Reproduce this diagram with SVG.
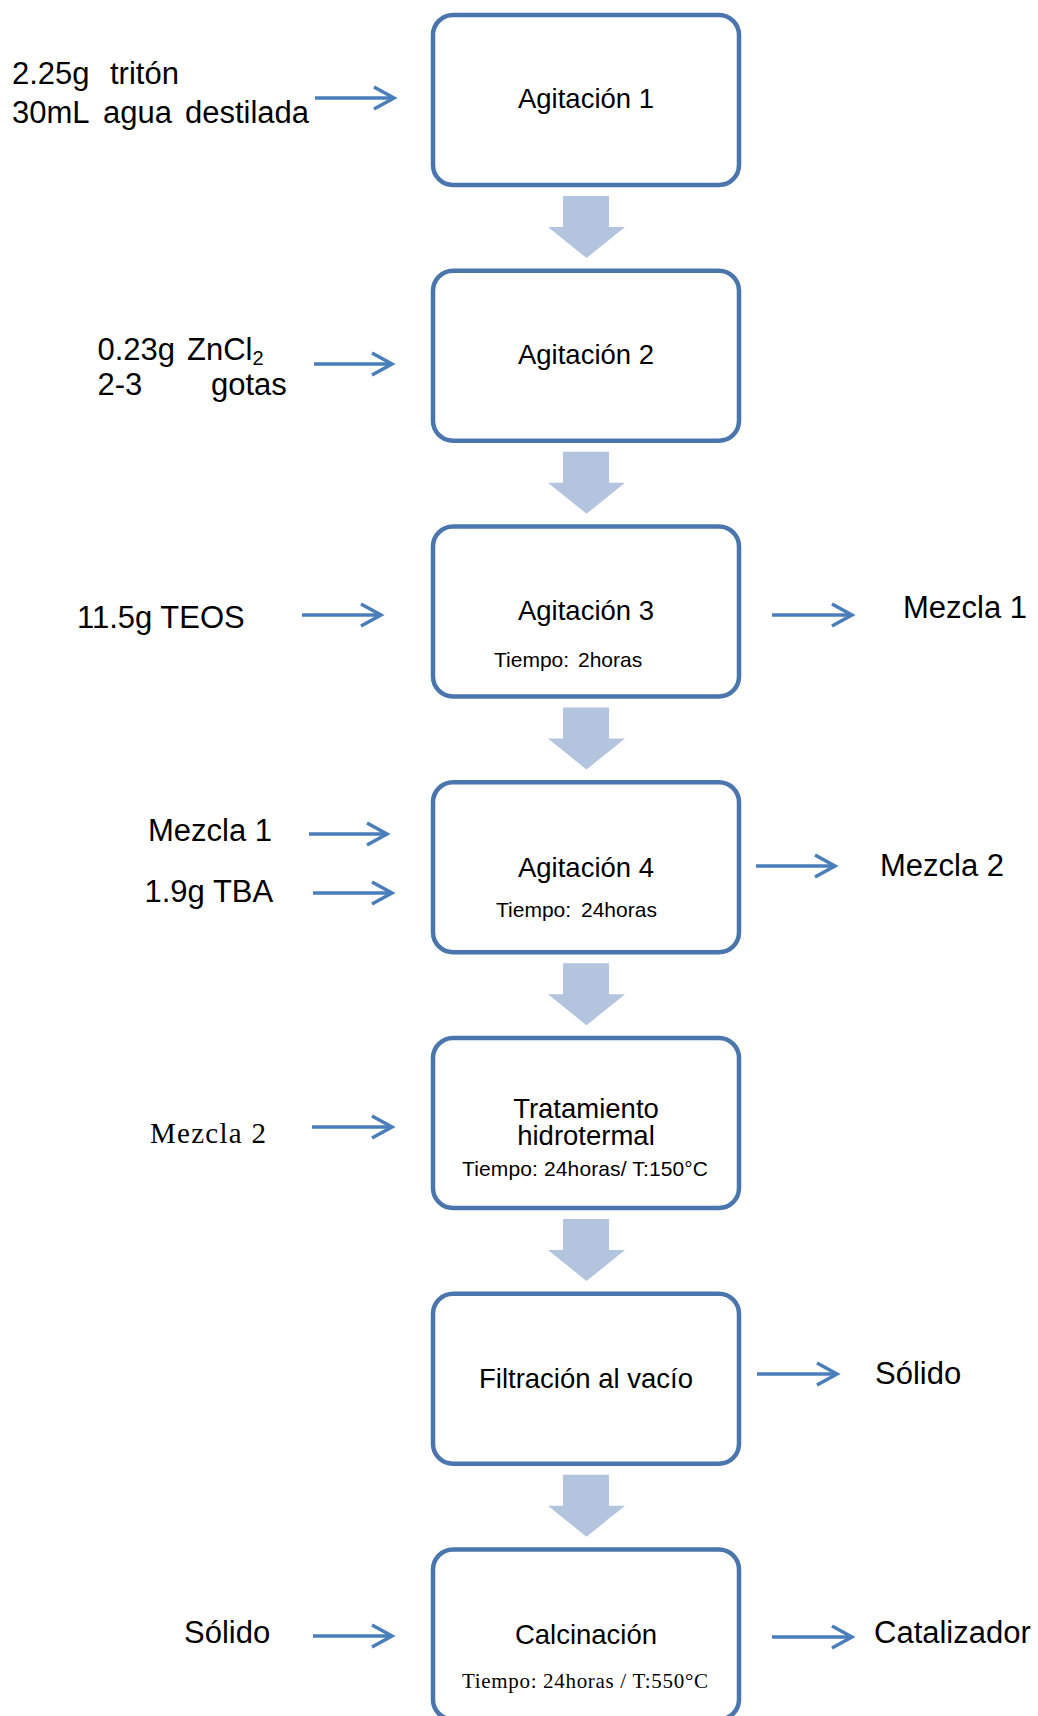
<svg xmlns="http://www.w3.org/2000/svg" width="1038" height="1716" viewBox="0 0 1038 1716">
<style>
  .box { fill: #ffffff; stroke: #4A75AD; stroke-width: 4.5; }
  .blk { fill: #B3C4DF; }
  .ln { fill: none; stroke: #4A7EBB; stroke-width: 3.5; marker-end: url(#chev); }
  .lbl { font-family: "Liberation Sans", Arial, sans-serif; font-size: 31px; fill: #000; }
  .lbls { font-family: "Liberation Serif", "Times New Roman", serif; font-size: 29px; fill: #000; }
  .ttl { font-family: "Liberation Sans", Arial, sans-serif; font-size: 27.5px; fill: #000; text-anchor: middle; }
  .sub { font-family: "Liberation Sans", Arial, sans-serif; font-size: 21px; fill: #000; }
  .subs { font-family: "Liberation Serif", "Times New Roman", serif; font-size: 21px; fill: #000; }
</style>
<defs>
  <marker id="chev" markerUnits="userSpaceOnUse" markerWidth="26" markerHeight="28" refX="21" refY="13" orient="auto" overflow="visible">
    <path d="M1,2 L21,13 L1,24" fill="none" stroke="#4A7EBB" stroke-width="3.5"/>
  </marker>
  <path id="blockArrow" class="blk" d="M563,-62 H609 V-31 H625 L586.5,0 L548,-31 H563 Z"/>
</defs>
<rect width="1038" height="1716" fill="#ffffff"/>

<g id="connectors">
  <use href="#blockArrow" transform="translate(0,258)"/>
  <use href="#blockArrow" transform="translate(0,513.75)"/>
  <use href="#blockArrow" transform="translate(0,769.5)"/>
  <use href="#blockArrow" transform="translate(0,1025.25)"/>
  <use href="#blockArrow" transform="translate(0,1281)"/>
  <use href="#blockArrow" transform="translate(0,1536.75)"/>
  <line class="ln" x1="315" y1="98" x2="394" y2="98"/>
  <line class="ln" x1="314" y1="364" x2="392" y2="364"/>
  <line class="ln" x1="302" y1="615" x2="381" y2="615"/>
  <line class="ln" x1="772" y1="615" x2="852" y2="615"/>
  <line class="ln" x1="309" y1="834" x2="387" y2="834"/>
  <line class="ln" x1="313" y1="893" x2="392" y2="893"/>
  <line class="ln" x1="756" y1="866" x2="835" y2="866"/>
  <line class="ln" x1="312" y1="1127" x2="392" y2="1127"/>
  <line class="ln" x1="757" y1="1374" x2="837" y2="1374"/>
  <line class="ln" x1="313" y1="1636" x2="392" y2="1636"/>
  <line class="ln" x1="772" y1="1637" x2="852" y2="1637"/>
</g>

<g id="node-agitacion1">
  <rect class="box" x="433" y="15" width="306" height="170" rx="20"/>
  <text class="ttl" x="586" y="108">Agitación 1</text>
</g>
<g id="node-agitacion2">
  <rect class="box" x="433" y="270.75" width="306" height="170" rx="20"/>
  <text class="ttl" x="586" y="364">Agitación 2</text>
</g>
<g id="node-agitacion3">
  <rect class="box" x="433" y="526.5" width="306" height="170" rx="20"/>
  <text class="ttl" x="586" y="620">Agitación 3</text>
  <text class="sub" y="667"><tspan x="494">Tiempo:</tspan><tspan x="578">2horas</tspan></text>
</g>
<g id="node-agitacion4">
  <rect class="box" x="433" y="782.25" width="306" height="170" rx="20"/>
  <text class="ttl" x="586" y="877">Agitación 4</text>
  <text class="sub" y="917"><tspan x="496">Tiempo:</tspan><tspan x="581">24horas</tspan></text>
</g>
<g id="node-tratamiento">
  <rect class="box" x="433" y="1038" width="306" height="170" rx="20"/>
  <text class="ttl" x="586" y="1118">Tratamiento</text>
  <text class="ttl" x="586" y="1145">hidrotermal</text>
  <text class="sub" x="462" y="1176" font-size="20" textLength="246" lengthAdjust="spacing">Tiempo: 24horas/ T:150°C</text>
</g>
<g id="node-filtracion">
  <rect class="box" x="433" y="1293.75" width="306" height="170" rx="20"/>
  <text class="ttl" x="586" y="1388">Filtración al vacío</text>
</g>
<g id="node-calcinacion">
  <rect class="box" x="433" y="1549.5" width="306" height="170" rx="20"/>
  <text class="ttl" x="586" y="1644">Calcinación</text>
  <text class="subs" x="462" y="1688" textLength="246" lengthAdjust="spacing">Tiempo: 24horas / T:550°C</text>
</g>

<g id="inputs">
  <text class="lbl" y="84"><tspan x="12">2.25g</tspan><tspan x="110">tritón</tspan></text>
  <text class="lbl" y="123"><tspan x="12">30mL</tspan><tspan x="103">agua</tspan><tspan x="185">destilada</tspan></text>
  <text class="lbl" y="360"><tspan x="97.5">0.23g</tspan><tspan x="187">ZnCl</tspan><tspan font-size="20" dy="5">2</tspan></text>
  <text class="lbl" y="395"><tspan x="97.5">2-3</tspan><tspan x="211">gotas</tspan></text>
  <text class="lbl" x="77" y="628">11.5g TEOS</text>
  <text class="lbl" x="148" y="841">Mezcla 1</text>
  <text class="lbl" x="144.5" y="902">1.9g TBA</text>
  <text class="lbls" x="150" y="1143" textLength="116" lengthAdjust="spacing">Mezcla 2</text>
  <text class="lbl" x="184" y="1643">Sólido</text>
</g>
<g id="outputs">
  <text class="lbl" x="903" y="618">Mezcla 1</text>
  <text class="lbl" x="880" y="876">Mezcla 2</text>
  <text class="lbl" x="875" y="1384">Sólido</text>
  <text class="lbl" x="874" y="1643">Catalizador</text>
</g>
</svg>
